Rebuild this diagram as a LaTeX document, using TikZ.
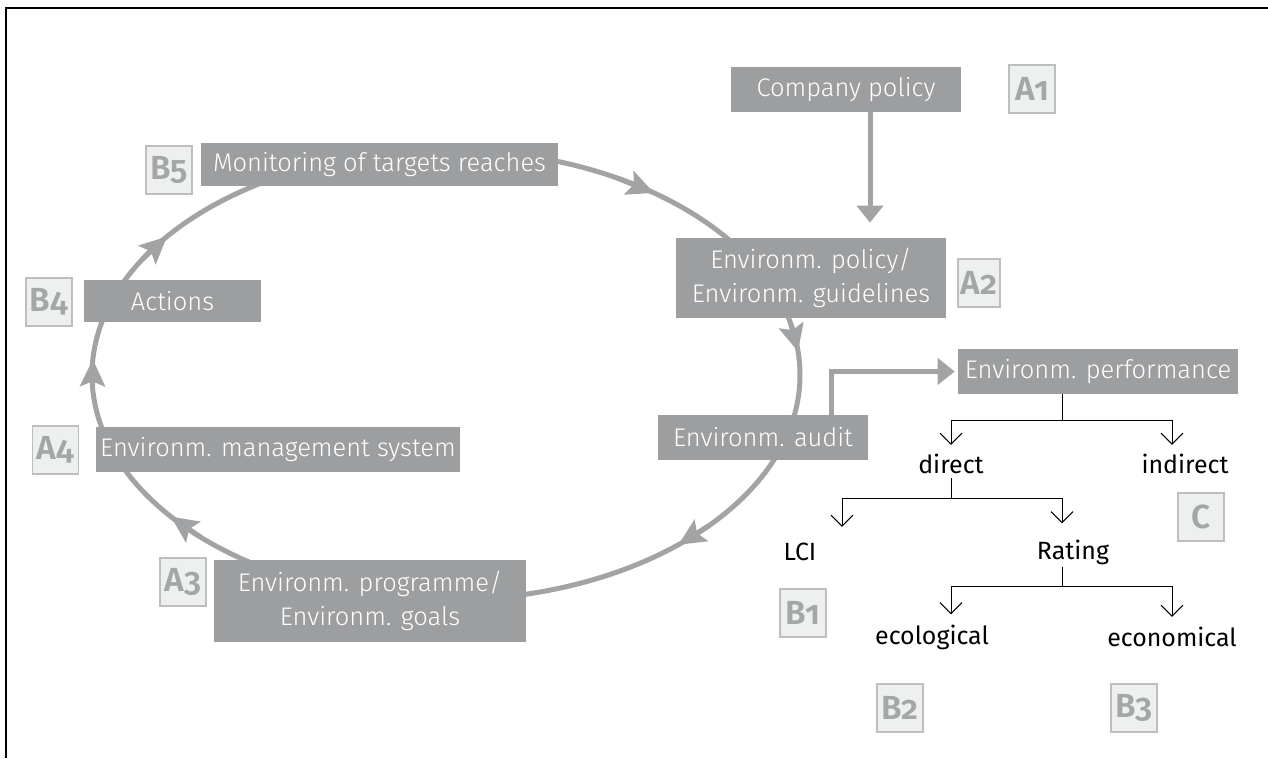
\documentclass[tikz,border=0pt]{standalone}
\usepackage{fontspec}
\setmainfont{Fira Sans}[UprightFont=* Light, BoldFont=* SemiBold, Numbers=OldStyle]
\newfontfamily\treefont{Fira Sans}[Numbers=OldStyle]
\usetikzlibrary{arrows.meta,calc}
\definecolor{boxgray}{HTML}{9D9EA0}
\definecolor{arcgray}{HTML}{A2A3A5}
\definecolor{labfill}{HTML}{EEEFEF}
\definecolor{labdraw}{HTML}{BDBEBF}
\definecolor{labtext}{HTML}{A5A6A8}
\tikzset{
  gbox/.style={fill=boxgray, text=white, inner sep=0pt, align=center,
    font=\fontsize{14.5}{19.5}\selectfont},
  lab/.style={fill=labfill, draw=labdraw, line width=0.9pt, text=labtext,
    minimum width=0.92cm, minimum height=0.95cm, inner sep=0pt,
    font=\fontsize{19}{19}\bfseries\selectfont},
  ttext/.style={font=\treefont\fontsize{14.2}{17}\selectfont, inner sep=0pt, text=black},
  cyc/.style={draw=arcgray, line width=0.1cm},
  cyctip/.style={-{Stealth[length=0.54cm,width=0.5cm,inset=0.1cm]}},
  conn/.style={draw=arcgray, line width=0.1cm, -{Triangle[length=0.34cm,width=0.52cm]}},
  tree/.style={draw=black, line width=0.55pt},
  vtip/.style={-{Straight Barb[length=0.22cm,width=0.44cm,line width=0.55pt]}}
}
\begin{document}
\begin{tikzpicture}[x=0.02cm,y=-0.02cm]
\useasboundingbox (0,0) rectangle (1268,758);
% frame
\draw[line width=0.04cm] (6,758) -- (6,8) -- (1268,8);
% cycle
\coordinate (ec) at (446,375);
\draw[cyc] (ec) ellipse [x radius=354, y radius=225];
\foreach \t in {47,139,182,216,304,352}
  \draw[cyc,cyctip] ($(ec)+({354*cos(\t-5)},{225*sin(\t-5)})$) -- ($(ec)+({354*cos(\t+2)},{225*sin(\t+2)})$);
% boxes on the cycle
\node[gbox, minimum width=4.6cm, minimum height=0.9cm] (comp) at (846,89.5) {Company policy};
\node[lab] (A1) at (1032,89) {A1};
\node[gbox, minimum width=5.4cm, minimum height=1.6cm] (pol) at (811,278) {Environm. policy/\\Environm. guidelines};
\node[lab, minimum width=0.84cm] (A2) at (979,283) {A2};
\node[gbox, minimum width=4.2cm, minimum height=0.9cm] (aud) at (763,437.5) {Environm. audit};
\node[gbox, minimum width=5.6cm, minimum height=0.9cm] (perf) at (1098,371.5) {Environm. performance};
\node[gbox, minimum width=7.14cm, minimum height=0.86cm] (mon) at (379.5,164.5) {Monitoring of targets reaches};
\node[lab] (B5) at (169,170) {B5};
\node[gbox, minimum width=3.54cm, minimum height=0.84cm] (act) at (172.5,301) {Actions};
\node[lab] (B4) at (49,302) {B4};
\node[gbox, minimum width=7.28cm, minimum height=0.9cm] (ems) at (278,449.5) {Environm. management system};
\node[lab] (A4) at (55.5,450) {A4};
\node[gbox, minimum width=6.24cm, minimum height=1.64cm] (prog) at (370,601) {Environm. programme/\\Environm. goals};
\node[lab] (A3) at (183,582) {A3};
% straight connectors
\draw[conn, shorten >=0.3cm] ([xshift=0.48cm]comp.south) -- ([xshift=0.48cm]comp.south |- pol.north);
\draw[conn, shorten >=0.06cm] ([xshift=1.38cm]aud.north) |- (perf.west);
% tree
\coordinate (c1) at (951,0);
\coordinate (c2) at (1172,0);
\coordinate (c3) at (842,0);
\coordinate (c4) at (1062,0);
\node[ttext] (direct) at (951,464) {direct};
\node[ttext] (indirect) at (1185,464) {indirect};
\node[ttext] (lci) at (800,552) {LCI};
\node[ttext] (rating) at (1073,552) {Rating};
\node[ttext] (ecol) at (932,637) {ecological};
\node[ttext] (econ) at (1172,637) {economical};
\node[lab] (B1) at (803,613) {B1};
\node[lab] (C) at (1201,517) {C};
\node[lab] (B2) at (900,708) {B2};
\node[lab] (B3) at (1134,708) {B3};
% level 1
\draw[tree] (c4 |- perf.south) -- ++(0,26) coordinate (j1);
\draw[tree,vtip] (j1) -| ($(c1 |- direct.north)+(0,-9)$);
\draw[tree,vtip] (j1) -| ($(c2 |- indirect.north)+(0,-9)$);
% level 2
\draw[tree] ($(c1 |- direct.south)+(0,4)$) -- ++(0,20) coordinate (j2);
\draw[tree,vtip] (j2) -| ($(c3 |- lci.north)+(0,-16)$);
\draw[tree,vtip] (j2) -| ($(c4 |- rating.north)+(0,-16)$);
% level 3
\draw[tree] ($(c4 |- rating.south)+(0,2)$) -- ++(0,20) coordinate (j3);
\draw[tree,vtip] (j3) -| ($(c1 |- ecol.north)+(0,-10)$);
\draw[tree,vtip] (j3) -| ($(c2 |- econ.north)+(0,-10)$);
\end{tikzpicture}
\end{document}
